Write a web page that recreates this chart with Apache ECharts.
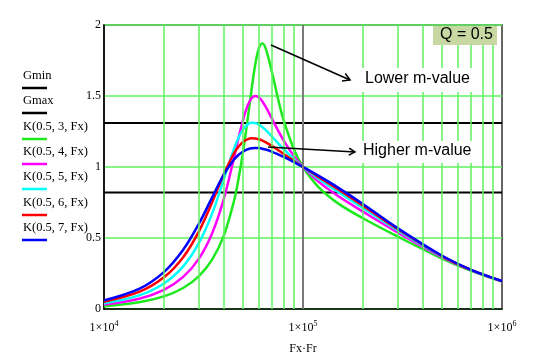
<!DOCTYPE html>
<html><head><meta charset="utf-8">
<script src="https://cdn.jsdelivr.net/npm/echarts@6/dist/echarts.min.js"></script>
<style>html,body{margin:0;padding:0;background:#fff}#c{width:551px;height:363px}</style>
</head><body><div id="c"></div>
<script>
const freq = [10000, 15000, 20000, 25000, 30000, 35000, 40000, 45000, 47500, 50000, 52500, 55000, 57500, 60000, 62500, 65000, 70000, 75000, 80000, 90000, 100000, 120000, 150000, 200000, 300000, 500000, 700000, 1000000];
const k3 = [0.020, 0.048, 0.089, 0.148, 0.231, 0.349, 0.517, 0.761, 0.922, 1.109, 1.319, 1.533, 1.718, 1.835, 1.870, 1.833, 1.661, 1.477, 1.328, 1.125, 1.0, 0.857, 0.744, 0.639, 0.509, 0.355, 0.268, 0.193];
const k4 = [0.031, 0.072, 0.135, 0.226, 0.355, 0.535, 0.775, 1.064, 1.208, 1.333, 1.427, 1.482, 1.500, 1.490, 1.462, 1.423, 1.337, 1.256, 1.186, 1.078, 1.0, 0.895, 0.796, 0.686, 0.538, 0.365, 0.272, 0.195];
const k5 = [0.041, 0.096, 0.180, 0.300, 0.465, 0.675, 0.913, 1.128, 1.209, 1.265, 1.298, 1.311, 1.310, 1.299, 1.281, 1.259, 1.213, 1.167, 1.126, 1.056, 1.0, 0.916, 0.825, 0.712, 0.553, 0.370, 0.274, 0.196];
const k6 = [0.051, 0.120, 0.223, 0.365, 0.547, 0.754, 0.951, 1.097, 1.145, 1.177, 1.194, 1.202, 1.201, 1.195, 1.186, 1.174, 1.147, 1.119, 1.092, 1.043, 1.0, 0.929, 0.843, 0.728, 0.562, 0.373, 0.275, 0.196];
const k7 = [0.061, 0.142, 0.260, 0.417, 0.601, 0.788, 0.946, 1.052, 1.086, 1.109, 1.124, 1.132, 1.134, 1.133, 1.129, 1.123, 1.107, 1.089, 1.071, 1.035, 1.0, 0.937, 0.855, 0.740, 0.568, 0.375, 0.276, 0.197];
const Gmin = 0.82;
const Gmax = 1.31;
const xRange = [10000, 1000000];
const minorGrid = [20000, 30000, 40000, 50000, 60000, 70000, 80000, 90000, 200000, 300000, 400000, 500000, 600000, 700000, 800000, 900000];
const legendNames = ['Gmin', 'Gmax', 'K(0.5, 3, Fx)', 'K(0.5, 4, Fx)', 'K(0.5, 5, Fx)', 'K(0.5, 6, Fx)', 'K(0.5, 7, Fx)'];
const curveNames = legendNames.slice(2);
const curveData = [k3, k4, k5, k6, k7];
const colors = ['#000000', '#000000', '#1ee81e', '#ff00ff', '#00ffff', '#ff0000', '#0000ff'];

const serif = '"Liberation Serif", "Times New Roman", serif';
const sans = '"Liberation Sans", Arial, sans-serif';
const gridGreen = '#5ff25f';

const chart = echarts.init(document.getElementById('c'));

const series = [];
series.push({
  name: 'grid', type: 'line', data: [], silent: true, z: 1,
  markLine: {
    silent: true, symbol: ['none', 'none'], label: {show: false},
    lineStyle: {color: gridGreen, width: 1.5, type: 'solid'},
    emphasis: {disabled: true},
    data: minorGrid.map(v => ({xAxis: v}))
  }
});
series.push({
  name: 'mid', type: 'line', data: [], silent: true, z: 1,
  markLine: {
    silent: true, symbol: ['none', 'none'], label: {show: false},
    lineStyle: {color: '#7a7a7a', width: 2, type: 'solid'},
    emphasis: {disabled: true},
    data: [{xAxis: 100000}]
  }
});
[Gmin, Gmax].forEach((g, i) => {
  series.push({
    name: legendNames[i], type: 'line', symbol: 'none', silent: true, z: 2,
    lineStyle: {color: '#000', width: 2},
    data: xRange.map(x => [x, g])
  });
});
curveData.forEach((arr, i) => {
  series.push({
    name: curveNames[i], type: 'line', symbol: 'none', smooth: 0.35, silent: true, z: 3,
    lineStyle: {color: colors[i + 2], width: 2.5},
    data: freq.map((f, j) => [f, arr[j]])
  });
});

const graphics = [];
const legY = [77, 102, 128, 153, 178, 204, 229];
legendNames.forEach((n, i) => {
  graphics.push({type: 'text', left: 23, top: legY[i] - 8, style: {text: n, font: '12.5px ' + serif, fill: '#000'}});
  graphics.push({type: 'line', shape: {x1: 22, y1: legY[i] + 11, x2: 47, y2: legY[i] + 11}, style: {stroke: colors[i], lineWidth: 2.5}});
});
// annotations
graphics.push({type: 'text', left: 361, top: 68, z: 10, style: {text: 'Lower m-value', font: '16px ' + sans, fill: '#000', backgroundColor: '#fff', padding: [3, 4, 5, 4]}});
graphics.push({type: 'text', left: 359, top: 141, z: 10, style: {text: 'Higher m-value', font: '16px ' + sans, fill: '#000', backgroundColor: '#fff', padding: [2, 4, 4, 4]}});
graphics.push({type: 'line', z: 11, shape: {x1: 271, y1: 45, x2: 350, y2: 80}, style: {stroke: '#000', lineWidth: 1.5}});
graphics.push({type: 'polyline', z: 11, shape: {points: [[345.3, 73.5], [350, 80], [342, 80.9]]}, style: {stroke: '#000', lineWidth: 1.5, fill: null}});
graphics.push({type: 'line', z: 11, shape: {x1: 268, y1: 147, x2: 355, y2: 152}, style: {stroke: '#000', lineWidth: 1.5}});
graphics.push({type: 'polyline', z: 11, shape: {points: [[349.2, 148.2], [355, 152], [348.7, 155.2]]}, style: {stroke: '#000', lineWidth: 1.5, fill: null}});
graphics.push({type: 'rect', shape: {x: 433, y: 26, width: 64, height: 19}, style: {fill: '#c8d8a2'}, z: 10});
graphics.push({type: 'text', left: 440, top: 27, z: 11, style: {text: 'Q = 0.5', font: '16px ' + sans, fill: '#000'}});

chart.setOption({
  animation: false,
  backgroundColor: '#fff',
  grid: {left: 104, top: 25, width: 398, height: 284, show: true, borderColor: '#333', borderWidth: 1.5, backgroundColor: 'transparent'},
  xAxis: {
    type: 'log', logBase: 10, min: xRange[0], max: xRange[1],
    name: 'Fx·Fr', nameLocation: 'middle', nameGap: 34,
    nameTextStyle: {fontFamily: serif, fontSize: 12, color: '#000'},
    axisLine: {show: true, lineStyle: {color: '#000', width: 1.5}},
    axisTick: {show: false},
    splitLine: {show: false},
    axisLabel: {
      margin: 11,
      formatter: v => '{b|1×10}{s|' + Math.round(Math.log10(v)) + '}',
      rich: {
        b: {fontFamily: serif, fontSize: 12, color: '#000'},
        s: {fontFamily: serif, fontSize: 8, color: '#000', padding: [0, 0, 8, 0]}
      }
    }
  },
  yAxis: {
    type: 'value', min: 0, max: 2, interval: 0.5,
    axisLine: {show: true, lineStyle: {color: '#000', width: 1.5}},
    axisTick: {show: false},
    splitLine: {show: true, lineStyle: {color: gridGreen, width: 1.5}},
    axisLabel: {margin: 3, fontFamily: serif, fontSize: 12, color: '#000', formatter: v => String(v)}
  },
  series: series,
  graphic: graphics
});
</script></body></html>
